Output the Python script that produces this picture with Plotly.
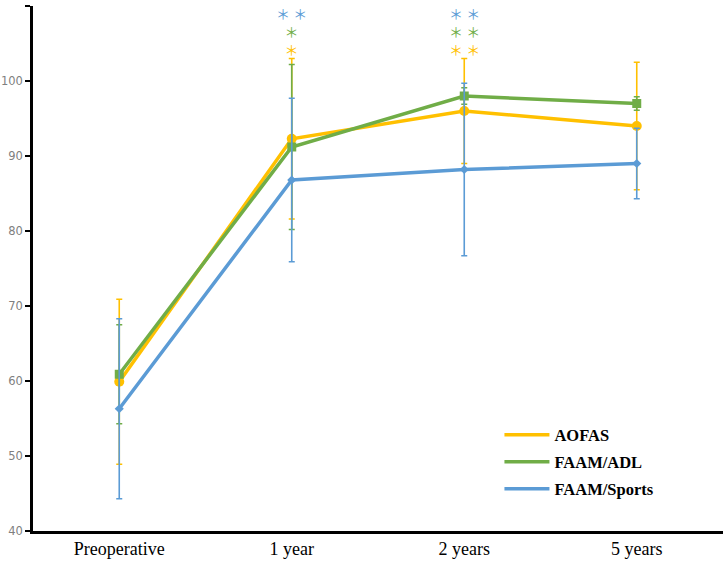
import plotly.graph_objects as go

timepoints = ["Preoperative", "1 year", "2 years", "5 years"]

aofas = [59.9, 92.3, 96.0, 94.0]
aofas_sd = [11.0, 10.7, 7.0, 8.5]

faam_adl = [60.9, 91.2, 98.0, 97.0]
faam_adl_sd = [6.6, 11.0, 1.1, 0.9]

faam_sports = [56.3, 86.8, 88.2, 89.0]
faam_sports_sd = [12.0, 10.9, 11.5, 4.7]

series = ["AOFAS", "FAAM/ADL", "FAAM/Sports"]
colors = ["#FFC000", "#70AD47", "#5B9BD5"]

# significance stars per timepoint, counts for Sports / ADL / AOFAS (top to bottom)
star_points = ["1 year", "2 years"]
star_counts = [[2, 1, 1], [2, 2, 2]]

fig = go.Figure()

data = [(aofas, aofas_sd, "circle", 10), (faam_adl, faam_adl_sd, "square", 9),
        (faam_sports, faam_sports_sd, "diamond", 7)]

for (vals, sd, sym, size), name, col in zip(data, series, colors):
    fig.add_trace(go.Scatter(
        x=timepoints, y=vals, mode="lines+markers", name=name,
        line=dict(color=col, width=3.5),
        marker=dict(symbol=sym, size=size, color=col),
        error_y=dict(type="data", array=sd, color=col, thickness=1.6, width=3),
        showlegend=False,
    ))

# legend entries drawn as plain lines
for name, col in zip(series, colors):
    fig.add_trace(go.Scatter(
        x=[None], y=[None], mode="lines", name=name, legendgroup=name,
        line=dict(color=col, width=3.5),
    ))

# one annotation per timepoint, coloured rows of stars
for tp, counts in zip(star_points, star_counts):
    rows = []
    for n, col in zip(counts, colors[::-1]):
        txt = "\u00a0".join(["＊"] * n)
        rows.append(f'<span style="color:{col}">{txt}</span>')
    fig.add_annotation(x=tp, y=110, yanchor="top", yshift=5.5, text="<br>".join(rows),
                       showarrow=False, align="center",
                       font=dict(family="Noto Sans CJK SC", size=14))

fig.update_layout(
    width=726, height=562,
    margin=dict(l=33, r=3, t=6, b=31),
    plot_bgcolor="white", paper_bgcolor="white",
    legend=dict(x=0.676, y=0.216, xanchor="left", yanchor="top",
                font=dict(family="Liberation Serif", size=16.5, color="black", weight="bold"),
                tracegroupgap=2.5, itemwidth=45, bgcolor="rgba(0,0,0,0)"),
)

fig.update_xaxes(
    type="category", range=[-0.5, 3.5], showline=True, linecolor="black",
    linewidth=2.5, ticks="", showgrid=False, automargin=False,
    tickfont=dict(family="Liberation Serif", size=18, color="black"),
)
fig.update_yaxes(
    range=[40, 110], dtick=10, showline=True, linecolor="black", linewidth=2.5,
    ticks="outside", ticklen=5, tickwidth=2, tickcolor="black", showgrid=False,
    zeroline=False, automargin=False,
    tickfont=dict(family="DejaVu Sans", size=11.5, color="#7f7f7f"),
)

fig.write_html("out.html", config={"displayModeBar": False},
               post_script="document.body.style.margin='0';")
